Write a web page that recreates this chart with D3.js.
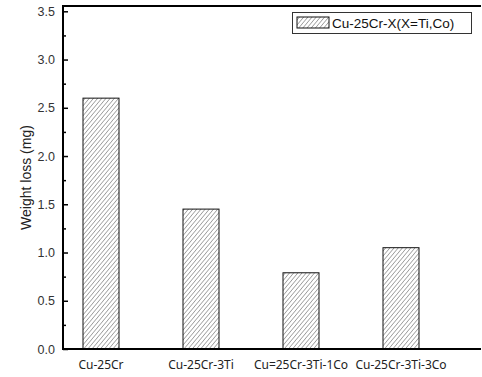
<!DOCTYPE html>
<html>
<head>
<meta charset="utf-8">
<title>Weight loss</title>
<script src="https://d3js.org/d3.v7.min.js"></script>
<style>
  body { margin: 0; background: #fff; }
</style>
</head>
<body>
<div id="chart"></div>
<script>
// data
var categories = ["Cu-25Cr", "Cu-25Cr-3Ti", "Cu=25Cr-3Ti-1Co", "Cu-25Cr-3Ti-3Co"]
var weightLoss = [2.6, 1.45, 0.79, 1.05]
var yTicks = [0.0, 0.5, 1.0, 1.5, 2.0, 2.5, 3.0, 3.5]
var seriesName = "Cu-25Cr-X(X=Ti,Co)"

var W = 482, H = 377
var plotLeft = 63, plotRight = 481, plotTop = 6, plotBottom = 349

var svg = d3.select("#chart").append("svg")
    .attr("width", W).attr("height", H)

// hatch pattern
var defs = svg.append("defs")
defs.append("pattern")
    .attr("id", "hatch")
    .attr("patternUnits", "userSpaceOnUse")
    .attr("width", 3.2).attr("height", 4)
    .attr("patternTransform", "rotate(40)")
  .append("line")
    .attr("x1", 0).attr("y1", 0).attr("x2", 0).attr("y2", 4)
    .attr("stroke", "#222").attr("stroke-width", 0.8)

var x = d3.scalePoint().domain(categories).range([101, 401])
var y = d3.scaleLinear().domain([0, 3.555]).range([plotBottom, plotTop])
var barW = 36

// bars
svg.selectAll("rect.bar")
    .data(weightLoss)
    .enter().append("rect")
    .attr("class", "bar")
    .attr("x", function (d, i) { return x(categories[i]) - barW / 2 })
    .attr("y", function (d) { return y(d) })
    .attr("width", barW)
    .attr("height", function (d) { return y(0) - y(d) })
    .attr("fill", "url(#hatch)")
    .attr("stroke", "#111")
    .attr("stroke-width", 1)

// y axis: inward ticks
var yAxis = svg.append("g")
    .attr("transform", "translate(" + plotLeft + ",0)")
    .call(d3.axisRight(y).tickValues(yTicks).tickSize(5).tickFormat(""))
yAxis.select(".domain").remove()
yAxis.selectAll("line").attr("stroke", "#000").attr("stroke-width", 1.5)

var minor = [0.25, 0.75, 1.25, 1.75, 2.25, 2.75, 3.25]
svg.append("g")
    .attr("transform", "translate(" + plotLeft + ",0)")
    .call(d3.axisRight(y).tickValues(minor).tickSize(3).tickFormat(""))
    .call(function (g) { g.select(".domain").remove() })
    .selectAll("line").attr("stroke", "#000").attr("stroke-width", 1.5)

svg.selectAll("text.ytick")
    .data(yTicks)
    .enter().append("text")
    .attr("class", "ytick")
    .attr("x", 55)
    .attr("y", function (d) { return y(d) + 4.5 })
    .attr("text-anchor", "end")
    .style("font-family", "Liberation Sans, Arial, sans-serif")
    .style("font-size", "12.5px")
    .style("fill", "#333")
    .text(function (d) { return d.toFixed(1) })

// frame lines (left, top, bottom)
svg.append("line").attr("x1", plotLeft).attr("x2", plotLeft).attr("y1", plotTop).attr("y2", plotBottom)
    .attr("stroke", "#000").attr("stroke-width", 2)
svg.append("line").attr("x1", plotLeft - 1).attr("x2", plotRight).attr("y1", plotTop).attr("y2", plotTop)
    .attr("stroke", "#000").attr("stroke-width", 2)
svg.append("line").attr("x1", plotLeft - 1).attr("x2", plotRight).attr("y1", plotBottom).attr("y2", plotBottom)
    .attr("stroke", "#000").attr("stroke-width", 2)

// x labels
svg.selectAll("text.xlab")
    .data(categories)
    .enter().append("text")
    .attr("class", "xlab")
    .attr("x", function (d) { return x(d) })
    .attr("y", 369)
    .attr("text-anchor", "middle")
    .style("font-family", "Noto Sans, Open Sans, sans-serif")
    .style("font-size", "12px")
    .style("fill", "#222")
    .text(function (d) { return d })

// y title
svg.append("text")
    .attr("transform", "translate(31," + ((plotTop + plotBottom) / 2) + ") rotate(-90)")
    .attr("text-anchor", "middle")
    .style("font-family", "Liberation Sans, Arial, sans-serif")
    .style("font-size", "14px")
    .style("fill", "#222")
    .text("Weight loss (mg)")

// legend
var lg = svg.append("g")
lg.append("rect")
    .attr("x", 292.5).attr("y", 12.5).attr("width", 179).attr("height", 21)
    .attr("fill", "#fff").attr("stroke", "#333").attr("stroke-width", 1)
lg.append("rect")
    .attr("x", 297).attr("y", 17).attr("width", 32).attr("height", 11)
    .attr("fill", "url(#hatch)").attr("stroke", "#111").attr("stroke-width", 1)
lg.append("text")
    .attr("x", 332).attr("y", 28)
    .style("font-family", "Liberation Sans, Arial, sans-serif")
    .style("font-size", "13.5px")
    .style("fill", "#111")
    .text(seriesName)
</script>
</body>
</html>
